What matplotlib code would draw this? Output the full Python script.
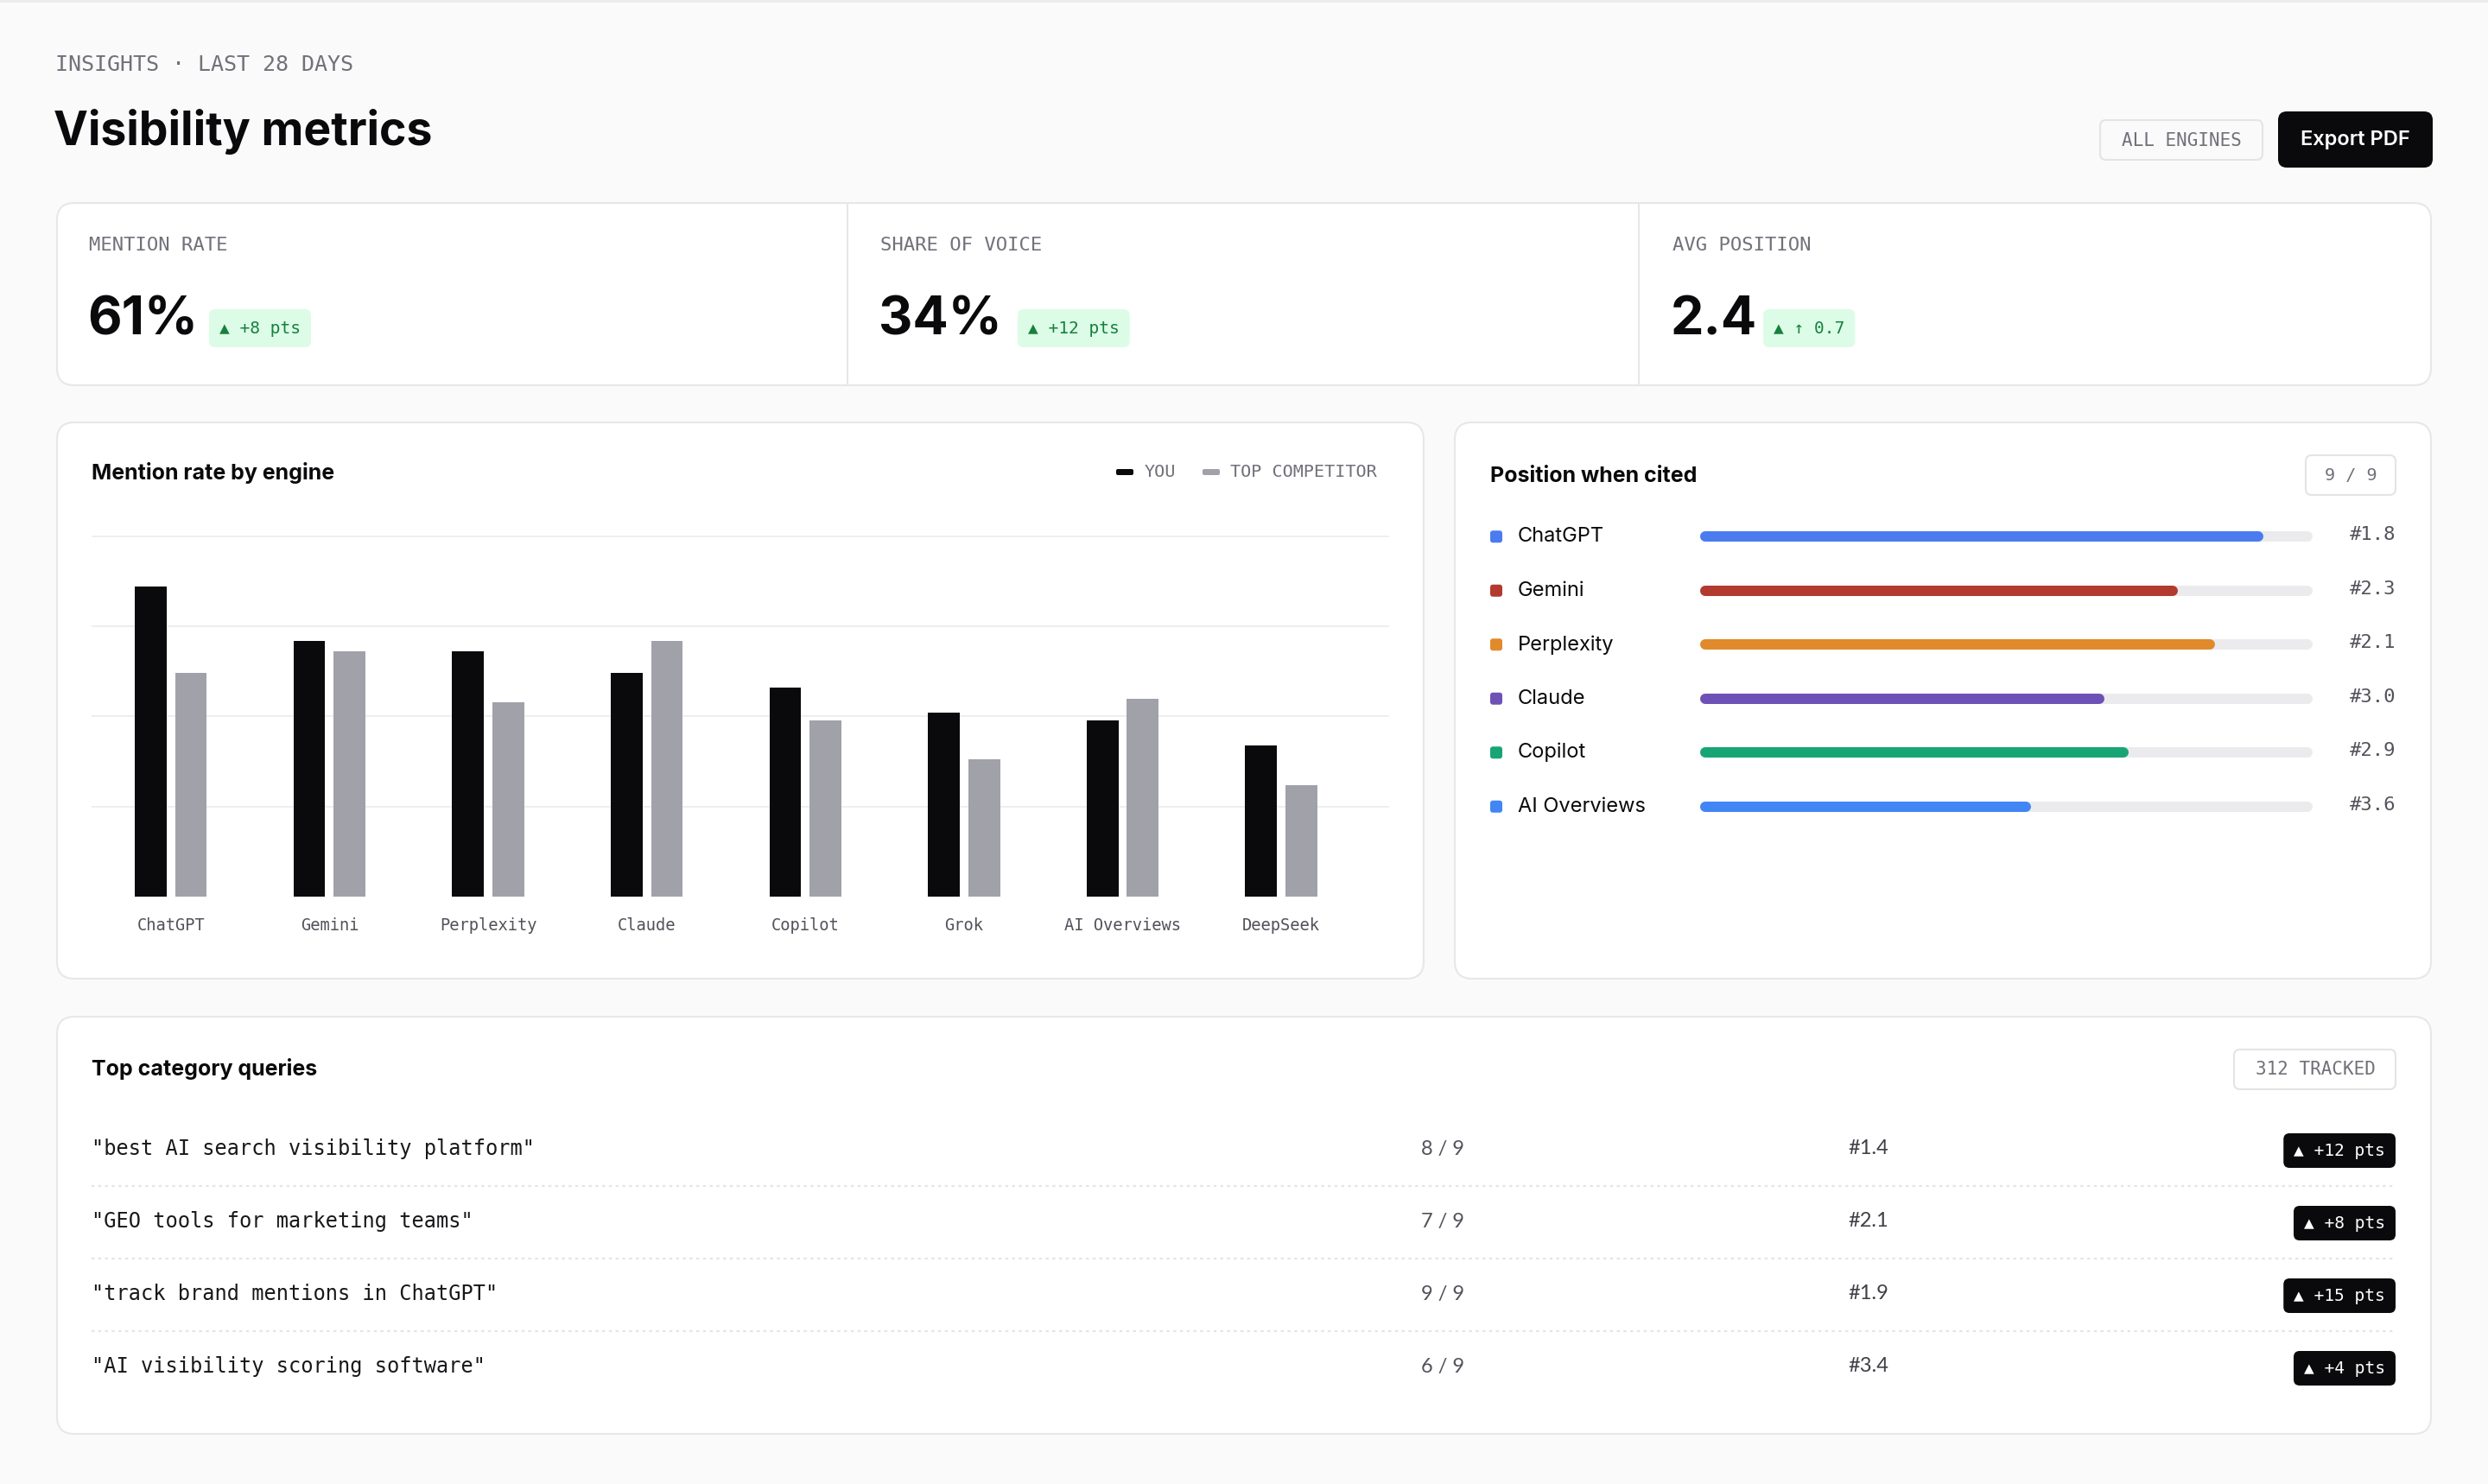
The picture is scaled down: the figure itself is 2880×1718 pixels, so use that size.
import matplotlib
matplotlib.use("Agg")
import matplotlib.pyplot as plt
from matplotlib.patches import FancyBboxPatch
import numpy as np

W, H = 2880, 1718
DPI = 100

# ---------- data ----------
engines = ["ChatGPT", "Gemini", "Perplexity", "Claude", "Copilot", "Grok", "AI Overviews", "DeepSeek"]
you_rate = [86, 71, 68, 62, 58, 51, 49, 42]
competitor_rate = [62, 68, 54, 71, 49, 38, 55, 31]

cited_engines = ["ChatGPT", "Gemini", "Perplexity", "Claude", "Copilot", "AI Overviews"]
cited_fill = [92, 78, 84, 66, 70, 54]
cited_pos = ["#1.8", "#2.3", "#2.1", "#3.0", "#2.9", "#3.6"]
cited_colors = ["#4A7CF0", "#B23A2E", "#E08A2C", "#6E51B6", "#18A574", "#4285F4"]

kpi_labels = ["MENTION RATE", "SHARE OF VOICE", "AVG POSITION"]
kpi_values = ["61%", "34%", "2.4"]
kpi_deltas = ["▲ +8 pts", "▲ +12 pts", "▲ ↑ 0.7"]

queries = ['"best AI search visibility platform"', '"GEO tools for marketing teams"',
           '"track brand mentions in ChatGPT"', '"AI visibility scoring software"']
query_engines = ["8 / 9", "7 / 9", "9 / 9", "6 / 9"]
query_pos = ["#1.4", "#2.1", "#1.9", "#3.4"]
query_delta = ["▲ +12 pts", "▲ +8 pts", "▲ +15 pts", "▲ +4 pts"]

# ---------- style ----------
PAGE = "#FAFAFA"
BORDER = "#E7E7EA"
INK = "#0A0A0C"
MUTED = "#71717A"
SUB = "#52525B"
YOU_C = "#0A0A0C"
COMP_C = "#A1A1AA"
GRID = "#EEEEF1"
TRACK = "#EBEBEE"
SANS = ["Inter", "DejaVu Sans"]
MONO = ["DejaVu Sans Mono"]
LIGHT = ["Lato", "DejaVu Sans"]

fig = plt.figure(figsize=(W / DPI, H / DPI), dpi=DPI, facecolor=PAGE)
bg = fig.add_axes([0, 0, 1, 1])
bg.set_xlim(0, W)
bg.set_ylim(H, 0)
bg.axis("off")
renderer = fig.canvas.get_renderer()


def px_axes(x0, y0, x1, y1):
    return fig.add_axes([x0 / W, 1 - y1 / H, (x1 - x0) / W, (y1 - y0) / H])


def rbox(x0, y0, x1, y1, r, fc, ec="none", lw=1.5, z=1):
    bg.add_patch(FancyBboxPatch((x0, y0), x1 - x0, y1 - y0,
                                boxstyle=f"round,pad=0,rounding_size={r}",
                                fc=fc, ec=ec, lw=lw, zorder=z))


def badge(x, y, s, ha, fc, tc, padx, h, size, r=7):
    t = bg.text(x + (padx if ha == "left" else -padx), y, s, ha=ha, va="center",
                family=MONO, fontsize=size, color=tc, zorder=5)
    bb = t.get_window_extent(renderer)
    rbox(bb.x0 - padx, y - h / 2, bb.x1 + padx, y + h / 2, r, fc, z=4)


# top hairline
bg.axhline(1, color="#EBEBEB", lw=2)

# ---------- header ----------
bg.text(64, 75, "INSIGHTS · LAST 28 DAYS", family=MONO, fontsize=18, color=MUTED, va="center")
bg.text(62, 168, "Visibility metrics", family=SANS, fontsize=38.5, fontweight="bold", color=INK, va="baseline")

rbox(2431, 139, 2619, 185, 7, "#FAFAFA", ec="#E4E4E7", lw=1.5)
bg.text(2525, 163, "ALL ENGINES", family=MONO, fontsize=15, color=MUTED, ha="center", va="center")
rbox(2637, 129, 2816, 194, 10, INK)
bg.text(2726, 162, "Export PDF", family=SANS, fontsize=17, fontweight="semibold", color="white",
        ha="center", va="center")

# ---------- KPI strip ----------
rbox(66, 235, 2814, 446, 20, "white", ec=BORDER)
for xd in (981, 1897):
    bg.plot([xd, xd], [236, 445], color=BORDER, lw=1.5)
kpi_x = [103, 1019, 1936]
badge_x = [242, 1178, 2041]
for i in range(3):
    bg.text(kpi_x[i], 284, kpi_labels[i], family=MONO, fontsize=16, color=MUTED, va="center")
    bg.text(kpi_x[i] - 2, 387, kpi_values[i], family=SANS, fontsize=44, fontweight="bold",
            color=INK, va="baseline")
    badge(badge_x[i], 380, kpi_deltas[i], "left", "#DCFCE7", "#16803C", 12, 44, 14)

# ---------- mention rate card ----------
rbox(66, 489, 1648, 1133, 20, "white", ec=BORDER)
bg.text(106, 547, "Mention rate by engine", family=SANS, fontsize=18, fontweight="bold",
        color=INK, va="center")
rbox(1292, 543, 1312, 550, 2, YOU_C, z=3)
bg.text(1325, 547, "YOU", family=MONO, fontsize=14.5, color=MUTED, va="center")
rbox(1392, 543, 1412, 550, 2, COMP_C, z=3)
bg.text(1424, 547, "TOP COMPETITOR", family=MONO, fontsize=14.5, color=MUTED, va="center")

ax = px_axes(106, 600, 1608, 1038)
x = np.arange(len(engines))
ax.bar(x - 0.127, you_rate, width=0.2, color=YOU_C, zorder=3)
ax.bar(x + 0.127, competitor_rate, width=0.2, color=COMP_C, zorder=3)
ax.set_xlim(-0.5, 7.68)
ax.set_ylim(0, 105)
ax.set_yticks([25, 50, 75, 100])
ax.yaxis.grid(True, color=GRID, lw=1.4)
ax.set_axisbelow(True)
ax.tick_params(axis="y", left=False, labelleft=False)
ax.set_xticks(x, engines)
for lab in ax.get_xticklabels():
    lab.set_fontfamily(MONO)
    lab.set_fontsize(13.5)
    lab.set_color(SUB)
ax.tick_params(axis="x", length=0, pad=17)
for s in ax.spines.values():
    s.set_visible(False)
ax.patch.set_alpha(0)

# ---------- position card ----------
rbox(1684, 489, 2814, 1133, 20, "white", ec=BORDER)
bg.text(1725, 552, "Position when cited", family=SANS, fontsize=18, fontweight="bold",
        color=INK, va="center")
rbox(2669, 527, 2773, 573, 7, "white", ec="#E4E4E7")
bg.text(2721, 550, "9 / 9", family=MONO, fontsize=14.5, color=MUTED, ha="center", va="center")

pax = px_axes(1968, 590, 2677, 965)
pax.set_xlim(0, 100)
pax.set_ylim(5.5, -0.5)
pax.axis("off")
lw_pt = 12 * 72 / DPI
cap = 6 / 709 * 100
for i, (name, fill, pos, c) in enumerate(zip(cited_engines, cited_fill, cited_pos, cited_colors)):
    pax.plot([cap, 100 - cap], [i, i], color=TRACK, lw=lw_pt, solid_capstyle="round")
    pax.plot([cap, fill - cap], [i, i], color=c, lw=lw_pt, solid_capstyle="round")
    yy = 590 + (i + 0.5) * 62.5
    rbox(1725, yy - 7, 1739, yy + 7, 3, c, z=3)
    bg.text(1757, yy, name, family=SANS, fontsize=17, color=INK, va="center")
    bg.text(2773, yy - 2, pos, family=MONO, fontsize=16, color=SUB, ha="right", va="center")

# ---------- queries card ----------
rbox(66, 1177, 2814, 1660, 20, "white", ec=BORDER)
bg.text(106, 1238, "Top category queries", family=SANS, fontsize=18, fontweight="bold",
        color=INK, va="center")
rbox(2586, 1215, 2773, 1261, 7, "white", ec="#E4E4E7")
bg.text(2680, 1238, "312 TRACKED", family=MONO, fontsize=15, color=MUTED, ha="center", va="center")

for i, (q, e, p, d) in enumerate(zip(queries, query_engines, query_pos, query_delta)):
    yy = 1330 + i * 84
    bg.text(106, yy, q, family=MONO, fontsize=17, color="#18181B", va="center")
    bg.text(1670, yy, e, family=LIGHT, fontsize=17, color=SUB, ha="center", va="center")
    bg.text(2163, yy, p, family=LIGHT, fontsize=17, color="#3F3F46", ha="center", va="center")
    badge(2773, yy + 2, d, "right", INK, "white", 12, 40, 14)
    if i < len(queries) - 1:
        bg.plot([106, 2773], [yy + 43, yy + 43], color="#E4E4E7", lw=1.6, ls=(0, (1.5, 2)))

fig.savefig("out.png", dpi=DPI, facecolor=PAGE)
